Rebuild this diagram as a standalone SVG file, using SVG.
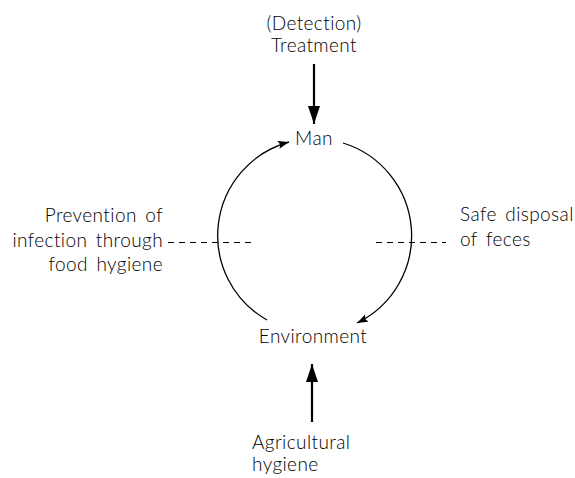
<svg xmlns="http://www.w3.org/2000/svg" width="575" height="478" viewBox="0 0 575 478">
<style>
text{font-family:Lato,"Open Sans","DejaVu Sans",sans-serif;font-weight:300;font-size:19px;letter-spacing:0.4px;word-spacing:3px;fill:#000}
.c{text-anchor:middle}
.r{text-anchor:end}
.arc{fill:none;stroke:#000;stroke-width:1.3}
.big{fill:none;stroke:#000;stroke-width:2.2}
.dash{fill:none;stroke:#000;stroke-width:1;stroke-dasharray:6 5}
</style>
<defs>
<marker id="ah" markerWidth="12" markerHeight="10" refX="11" refY="4" orient="auto" markerUnits="userSpaceOnUse">
<path d="M0,0 L11,4 L0,8 L2,4 Z" fill="#000"/>
</marker>
<marker id="bh" markerWidth="20" markerHeight="14" refX="18" refY="6" orient="auto" markerUnits="userSpaceOnUse">
<path d="M0,0 L18,6 L0,12 Z" fill="#000"/>
</marker>
</defs>
<g id="treatment"><text class="c" x="314" y="30">(Detection)</text><text class="c" x="314" y="52">Treatment</text></g>
<g id="man"><text class="c" x="314" y="145">Man</text></g>
<g id="environment"><text class="c" x="313" y="343">Environment</text></g>
<g id="agricultural"><text x="252" y="449">Agricultural</text><text x="252" y="471">hygiene</text></g>
<g id="prevention"><text class="r" x="163" y="222">Prevention of</text><text class="r" x="163" y="247">infection through</text><text class="r" x="163" y="271">food hygiene</text></g>
<g id="disposal"><text x="460" y="221">Safe disposal</text><text x="460" y="246">of feces</text></g>
<g id="connectors">
<path class="arc" d="M267,320 A97,97 0 0 1 289,142" marker-end="url(#ah)"/>
<path class="arc" d="M343,143 A97,97 0 0 1 357,323" marker-end="url(#ah)"/>
<line class="big" x1="314" y1="64" x2="314" y2="124" marker-end="url(#bh)"/>
<line class="big" x1="312" y1="422" x2="312" y2="364" marker-end="url(#bh)"/>
<line class="dash" x1="168" y1="242.5" x2="251" y2="242.5"/>
<line class="dash" x1="376" y1="242.5" x2="446" y2="242.5"/>
</g>
</svg>
